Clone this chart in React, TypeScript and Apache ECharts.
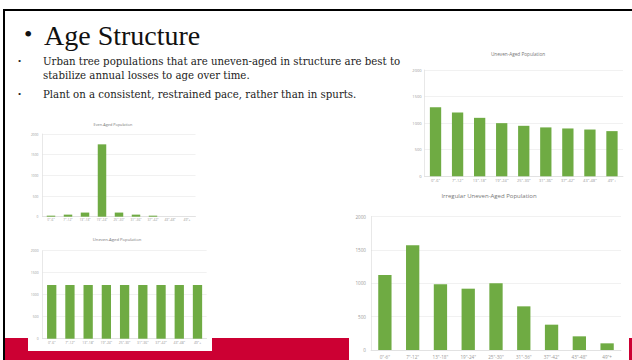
import React, { useEffect, useRef } from "react";
import * as echarts from "echarts";

const categories = ['0"-6"', '7"-12"', '13"-18"', '19"-24"', '25"-30"', '31"-36"', '37"-42"', '43"-48"', '49"+'];
const evenAgedValues = [25, 50, 100, 1750, 100, 50, 25, 0, 0];
const unevenAgedLeftValues = [1220, 1220, 1220, 1220, 1220, 1220, 1220, 1220, 1220];
const unevenAgedRightValues = [1300, 1200, 1100, 1000, 950, 920, 900, 880, 850];
const irregularValues = [1125, 1570, 985, 920, 1000, 655, 380, 205, 100];
const yMax = 2000;
const yInterval = 500;

const headline = "Age Structure";
const bulletLines = [
  "Urban tree populations that are uneven-aged in structure are best to",
  "stabilize annual losses to age over time.",
  "Plant on a consistent, restrained pace, rather than in spurts.",
];
const panelTitles = [
  "Even-Aged Population",
  "Uneven-Aged Population",
  "Uneven-Aged Population",
  "Irregular Uneven-Aged Population",
];

const GREEN = "#6fab43";
const RED = "#cc0033";
const SANS = "'Open Sans', 'Noto Sans', sans-serif";
const SERIF = "'Liberation Serif', 'DejaVu Serif', serif";
const BODY = "'DejaVu Serif', serif";

type Panel = {
  left: number;
  top: number;
  width: number;
  height: number;
  data: number[];
  font: number;
  barWidth: number;
  xMargin: number;
  yMargin: number;
  titleX: number;
  titleY: number;
  titleFont: number;
};

const panels: Panel[] = [
  { left: 42.5, top: 134, width: 153, height: 82.7, data: evenAgedValues, font: 3.3, barWidth: 8.5, xMargin: 1.5, yMargin: 4, titleX: 113, titleY: 124, titleFont: 3.8 },
  { left: 42.6, top: 250.7, width: 164, height: 88, data: unevenAgedLeftValues, font: 3.4, barWidth: 9.3, xMargin: 2, yMargin: 4, titleX: 117, titleY: 239, titleFont: 4.2 },
  { left: 424.5, top: 70, width: 198.5, height: 106.3, data: unevenAgedRightValues, font: 4, barWidth: 11.3, xMargin: 2, yMargin: 3, titleX: 518, titleY: 54, titleFont: 4.7 },
  { left: 371, top: 216.7, width: 250, height: 133.3, data: irregularValues, font: 4.6, barWidth: 13.3, xMargin: 4, yMargin: 5, titleX: 489, titleY: 196, titleFont: 6 },
];

export default function App() {
  const ref = useRef<HTMLDivElement>(null);

  useEffect(() => {
    if (!ref.current) return;
    const chart = echarts.init(ref.current, undefined, { renderer: "svg" });

    const grid = panels.map((p) => ({
      left: p.left,
      top: p.top,
      width: p.width,
      height: p.height,
      containLabel: false,
    }));
    const xAxis = panels.map((p, i) => ({
      type: "category",
      gridIndex: i,
      data: categories,
      z: 3,
      axisLine: { show: true, lineStyle: { color: "#d8d8d8", width: 0.6 } },
      axisTick: { show: false },
      axisLabel: { interval: 0, fontSize: p.font, color: "#999", fontFamily: SANS, margin: p.xMargin },
    }));
    const yAxis = panels.map((p, i) => ({
      type: "value",
      gridIndex: i,
      min: 0,
      max: yMax,
      interval: yInterval,
      z: 3,
      axisLine: { show: true, lineStyle: { color: "#d8d8d8", width: 0.6 } },
      axisTick: { show: false },
      splitLine: { show: true, lineStyle: { color: "#e8e8e8", width: 0.6 } },
      axisLabel: {
        fontSize: p.font,
        color: "#999",
        fontFamily: SANS,
        margin: p.yMargin,
        formatter: (v: number) => String(v),
      },
    }));
    const series = panels.map((p, i) => ({
      type: "bar",
      xAxisIndex: i,
      yAxisIndex: i,
      data: p.data,
      barWidth: p.barWidth,
      z: 4,
      itemStyle: { color: GREEN },
    }));

    const graphic: any[] = [
      // red band
      { type: "rect", z: 0, shape: { x: 4, y: 338, width: 345, height: 22 }, style: { fill: RED } },
      { type: "rect", z: 0, shape: { x: 629, y: 338, width: 3, height: 22 }, style: { fill: RED } },
      // chart image backgrounds
      { type: "rect", z: 1, shape: { x: 28, y: 228, width: 184, height: 123 }, style: { fill: "#fff" } },
      { type: "rect", z: 1, shape: { x: 349, y: 188, width: 280, height: 172 }, style: { fill: "#fff" } },
      // black frame
      { type: "rect", z: 5, shape: { x: 3, y: 9, width: 629, height: 2 }, style: { fill: "#000" } },
      { type: "rect", z: 5, shape: { x: 3, y: 9, width: 2, height: 351 }, style: { fill: "#000" } },
      // headline
      { type: "text", z: 6, x: 24, y: 34, style: { text: "•", fontSize: 24, fontFamily: SERIF, fill: "#111", textAlign: "left", textVerticalAlign: "middle" } },
      { type: "text", z: 6, x: 44, y: 35, style: { text: headline, fontSize: 28, fontFamily: SERIF, fill: "#111", textAlign: "left", textVerticalAlign: "middle" } },
      // bullets
      { type: "text", z: 6, x: 18, y: 61, style: { text: "•", fontSize: 9, fontFamily: SERIF, fill: "#222", textVerticalAlign: "middle" } },
      { type: "text", z: 6, x: 43, y: 61, style: { text: bulletLines[0], fontSize: 10.2, fontFamily: BODY, fill: "#222", textVerticalAlign: "middle" } },
      { type: "text", z: 6, x: 43, y: 75.5, style: { text: bulletLines[1], fontSize: 10.2, fontFamily: BODY, fill: "#222", textVerticalAlign: "middle" } },
      { type: "text", z: 6, x: 18, y: 94, style: { text: "•", fontSize: 9, fontFamily: SERIF, fill: "#222", textVerticalAlign: "middle" } },
      { type: "text", z: 6, x: 43, y: 94, style: { text: bulletLines[2], fontSize: 10.2, fontFamily: BODY, fill: "#222", textVerticalAlign: "middle" } },
    ];
    panels.forEach((p, i) => {
      graphic.push({
        type: "text",
        z: 6,
        x: p.titleX,
        y: p.titleY,
        style: { text: panelTitles[i], fontSize: p.titleFont, fontFamily: SANS, fill: "#777", textAlign: "center", textVerticalAlign: "middle" },
      });
    });

    chart.setOption({
      animation: false,
      backgroundColor: "#fff",
      grid,
      xAxis,
      yAxis,
      series,
      graphic,
    } as any);

    return () => chart.dispose();
  }, []);

  return (
    <div
      ref={ref}
      style={{ position: "fixed", left: 0, top: 0, width: 632, height: 360 }}
    />
  );
}
